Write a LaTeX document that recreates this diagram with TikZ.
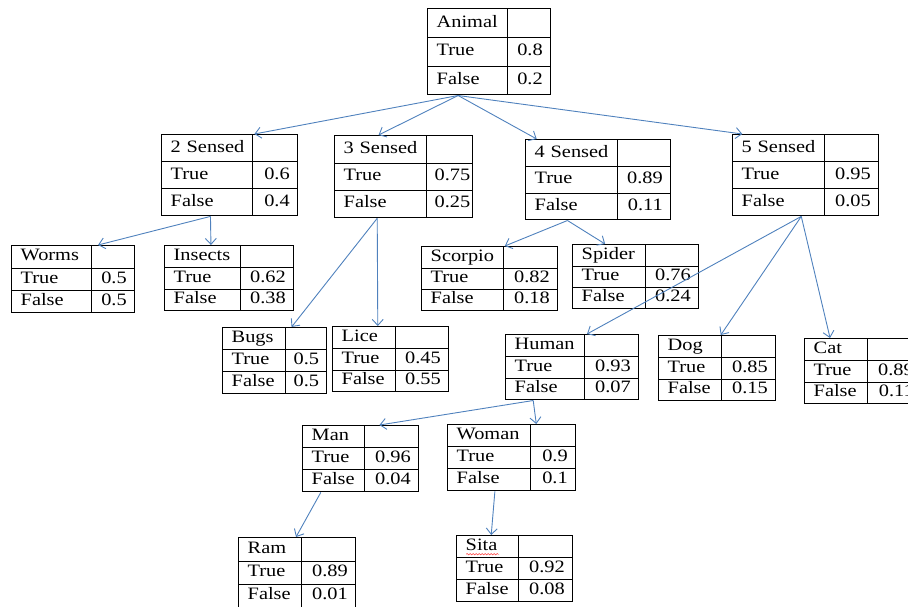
\documentclass[tikz,border=0pt]{standalone}
\usepackage{fontspec}
\setmainfont{Liberation Serif}[FakeStretch=1.17]
\usepackage{tikz}
\usetikzlibrary{arrows.meta,positioning,calc,matrix,decorations.pathmorphing}
\usepackage{xcolor}
\definecolor{linkblue}{RGB}{79,129,189}
\newcommand{\linkto}[4]{\draw[link] ($(#1.south west)!#2!(#1.south east)$) -- ($(#3.north west)!#4!(#3.north east)$);}

\begin{document}
\begin{tikzpicture}[x=1pt, y=-1pt,
font=\fontsize{17.4}{20}\selectfont,
cell/.style={draw, line width=1pt, inner sep=0pt, text height=12pt, text depth=4pt},
cpt/.code n args={3}{%
  \pgfmathsetmacro\cptwa{#1-12}%
  \pgfmathsetmacro\cptwb{#2-16}%
  \pgfkeysalso{matrix of nodes, nodes in empty cells, anchor=north west, inner sep=0pt,
    column sep=-1pt, row sep=-1pt, nodes={cell, minimum height=#3},
    column 1/.style={nodes={minimum width=#1, text width=\cptwa pt, align=left,
      execute at begin node={\hspace*{3pt}}}},
    column 2/.style={nodes={minimum width=#2, text width=\cptwb pt, align=right}}}},
link/.style={linkblue, line width=0.9pt, -{Straight Barb[length=6pt,width=11pt]}},
]
\clip (0,0) rectangle (908,606);

\matrix (animal) [cpt={80}{43}{28.7}] at (427,8) {Animal & \\ True & 0.8 \\ False & 0.2 \\};

\matrix (sense2) [cpt={91}{45}{27}] at (161,134) {2 Sensed & \\ True & 0.6 \\ False & 0.4 \\};
\matrix (sense3) [cpt={92}{46}{27.3}] at (334,135) {3 Sensed & \\ True & 0.75 \\ False & 0.25 \\};
\matrix (sense4) [cpt={92}{53}{26.7}] at (525,139) {4 Sensed & \\ True & 0.89 \\ False & 0.11 \\};
\matrix (sense5) [cpt={92}{54}{27}] at (732,134) {5 Sensed & \\ True & 0.95 \\ False & 0.05 \\};

\matrix (worms) [cpt={80}{43}{22.3}] at (11,245) {Worms & \\ True & 0.5 \\ False & 0.5 \\};
\matrix (insects) [cpt={76}{53}{21.7}] at (164,245) {Insects & \\ True & 0.62 \\ False & 0.38 \\};
\matrix (scorpio) [cpt={82}{54}{21.3}] at (421,246) {Scorpio & \\ True & 0.82 \\ False & 0.18 \\};
\matrix (spider) [cpt={73}{53}{21.3}] at (572,244) {Spider & \\ True & 0.76 \\ False & 0.24 \\};

\matrix (bugs) [cpt={63}{41}{22}] at (222,327) {Bugs & \\ True & 0.5 \\ False & 0.5 \\};
\matrix (lice) [cpt={63}{53}{21.7}] at (332,326) {Lice & \\ True & 0.45 \\ False & 0.55 \\};
\matrix (human) [cpt={79}{54}{21.7}] at (505,334) {Human & \\ True & 0.93 \\ False & 0.07 \\};
\matrix (dog) [cpt={63}{54}{21.7}] at (658,335) {Dog & \\ True & 0.85 \\ False & 0.15 \\};
\matrix (cat) [cpt={63}{54}{21.7}] at (804,338) {Cat & \\ True & 0.89 \\ False & 0.11 \\};

\matrix (man) [cpt={62}{54}{22}] at (302,425) {Man & \\ True & 0.96 \\ False & 0.04 \\};
\matrix (woman) [cpt={83}{45}{22}] at (447,424) {Woman & \\ True & 0.9 \\ False & 0.1 \\};
\matrix (ram) [cpt={63}{54}{23.3}] at (238,537) {Ram & \\ True & 0.89 \\ False & 0.01 \\};
\matrix (sita) [cpt={62}{54}{22}] at (456,535) {Sita & \\ True & 0.92 \\ False & 0.08 \\};

% spell-check mark under Sita
\draw[red, decorate, decoration={snake, amplitude=0.7pt, segment length=3pt}]
  ($(sita-1-1.south west)+(10,-4)$) -- ++(33,0);

\linkto{animal}{0.25}{sense2}{0.68}
\linkto{animal}{0.25}{sense3}{0.32}
\linkto{animal}{0.25}{sense4}{0.08}
\linkto{animal}{0.25}{sense5}{0.07}
\linkto{sense2}{0.36}{worms}{0.70}
\linkto{sense2}{0.36}{insects}{0.36}
\linkto{sense3}{0.31}{bugs}{0.66}
\linkto{sense3}{0.31}{lice}{0.39}
\linkto{sense4}{0.29}{scorpio}{0.61}
\linkto{sense4}{0.29}{spider}{0.26}
\linkto{sense5}{0.47}{human}{0.61}
\linkto{sense5}{0.47}{dog}{0.53}
\linkto{sense5}{0.47}{cat}{0.22}
\linkto{human}{0.21}{man}{0.66}
\linkto{human}{0.21}{woman}{0.69}
\linkto{man}{0.16}{ram}{0.49}
\linkto{woman}{0.37}{sita}{0.30}
\end{tikzpicture}
\end{document}
